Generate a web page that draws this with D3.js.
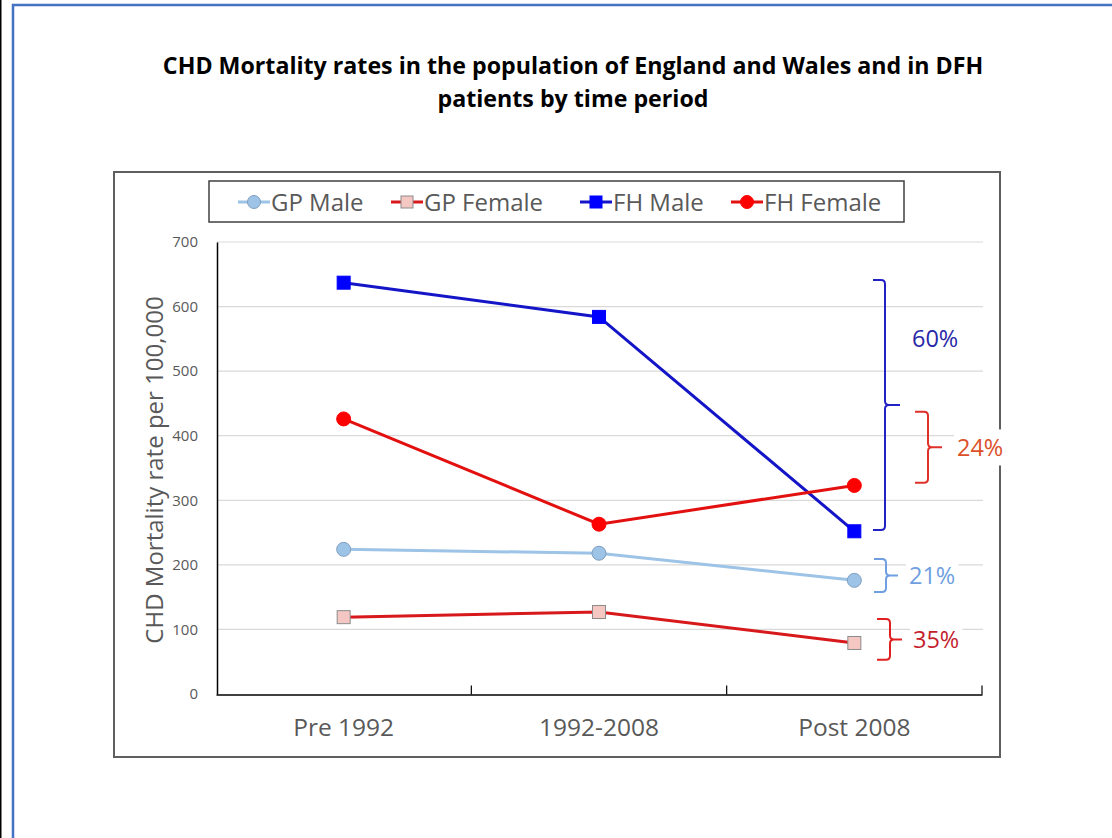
<!DOCTYPE html>
<html>
<head>
<meta charset="utf-8">
<script src="https://cdn.jsdelivr.net/npm/d3@7"></script>
<style>
  html, body { margin: 0; padding: 0; background: #fff; }
  svg { display: block; font-family: "Open Sans", Lato, sans-serif; }
</style>
</head>
<body>
<svg id="chart" width="1112" height="838"></svg>
<script>
// Time periods on the x axis
const periods = ["Pre 1992", "1992-2008", "Post 2008"];

// CHD mortality per 100,000 by group
const gpMale   = [224, 218, 176];
const gpFemale = [119, 127, 79];
const fhMale   = [637, 584, 252];
const fhFemale = [426, 263, 323];

const yTicks = [0, 100, 200, 300, 400, 500, 600, 700];

// Percentage-drop annotations: value span of the bracket, label and label height
const bracketLabels = ["60%", "24%", "21%", "35%"];
const bracketTop    = [641, 437, 209, 116];
const bracketBottom = [254, 327, 158, 53];
const bracketLabelAt = [550, 381, 183, 85];

const series = [
  { name: "GP Male",   values: gpMale,   line: "#9dc3e6", fill: "#9dc3e6", stroke: "#7f9fc0", shape: "circle" },
  { name: "GP Female", values: gpFemale, line: "#d7191c", fill: "#f4c7c3", stroke: "#8c8c8c", shape: "square" },
  { name: "FH Male",   values: fhMale,   line: "#1515c8", fill: "#0000ff", stroke: "#0000ff", shape: "square" },
  { name: "FH Female", values: fhFemale, line: "#e31010", fill: "#ff0000", stroke: "#ff0000", shape: "circle" }
];

const brackets = [
  { i: 0, x: 885, arm: 12, tip: 15, color: "#2222c4", text: "#2828a8", tx: 912 },
  { i: 1, x: 928, arm: 13, tip: 14, color: "#e0302a", text: "#dc5028", tx: 957 },
  { i: 2, x: 886, arm: 12, tip: 12, color: "#6f9fe0", text: "#6f9fe0", tx: 909 },
  { i: 3, x: 890, arm: 13, tip: 12, color: "#e02020", text: "#c41e2e", tx: 913 }
];

const svg = d3.select("#chart");
const gray = "#595959";

// outer frame
svg.append("rect").attr("x", 0).attr("y", 0).attr("width", 1.5).attr("height", 838).attr("fill", "#000");
svg.append("rect").attr("x", 13).attr("y", 5).attr("width", 1200).attr("height", 900)
  .attr("fill", "none").attr("stroke", "#4472c4").attr("stroke-width", 2.5);

// title
const title = svg.append("text").attr("text-anchor", "middle").attr("font-weight", "bold")
  .attr("font-size", 23.2).attr("fill", "#000");
title.append("tspan").attr("x", 573).attr("y", 74).text("CHD Mortality rates in the population of England and Wales and in DFH");
title.append("tspan").attr("x", 573).attr("y", 107).text("patients by time period");

// chart area frame
svg.append("rect").attr("x", 114).attr("y", 172).attr("width", 886).attr("height", 585)
  .attr("fill", "#fff").attr("stroke", "#5f5f5f").attr("stroke-width", 2);

const x = d3.scaleBand().domain(periods).range([216, 982]);
const y = d3.scaleLinear().domain([0, 700]).range([694, 242]);
const xc = d => x(d) + x.bandwidth() / 2;

// gridlines
svg.append("g").selectAll("line").data(yTicks.slice(1)).join("line")
  .attr("x1", 217).attr("x2", 983).attr("y1", d => y(d)).attr("y2", d => y(d))
  .attr("stroke", "#d9d9d9").attr("stroke-width", 1.2);

// y axis
const yAxis = svg.append("g").attr("transform", "translate(217,0)")
  .call(d3.axisLeft(y).tickValues(yTicks).tickSize(0).tickPadding(19));
yAxis.select(".domain").attr("stroke", "#000").attr("stroke-width", 1.5);
yAxis.selectAll("text").attr("font-size", 15).attr("fill", gray).attr("font-family", "'Open Sans', sans-serif");

// x axis with category separators as inside ticks
const xAxis = svg.append("g").attr("transform", "translate(0,694.5)")
  .call(d3.axisBottom(x).tickSize(0).tickPadding(24));
xAxis.select(".domain").attr("stroke", "#000").attr("stroke-width", 1.5);
xAxis.selectAll("text").attr("font-size", 24.5).attr("fill", gray).attr("font-family", "'Open Sans', sans-serif");
const bounds = periods.map(p => x(p) + x.bandwidth());
xAxis.append("g").selectAll("line").data(bounds).join("line")
  .attr("x1", d => d).attr("x2", d => d).attr("y1", 0).attr("y2", -9)
  .attr("stroke", "#000").attr("stroke-width", 1.2);

// series lines and markers
const line = d3.line().x((d, i) => xc(periods[i])).y(d => y(d));

function marker(g, s, cx, cy, size) {
  if (s.shape === "circle") {
    g.append("circle").attr("cx", cx).attr("cy", cy).attr("r", size / 2)
      .attr("fill", s.fill).attr("stroke", s.stroke).attr("stroke-width", 1);
  } else {
    g.append("rect").attr("x", cx - size / 2).attr("y", cy - size / 2)
      .attr("width", size).attr("height", size)
      .attr("fill", s.fill).attr("stroke", s.stroke).attr("stroke-width", 1);
  }
}

series.forEach(s => {
  const g = svg.append("g");
  g.append("path").datum(s.values).attr("d", line)
    .attr("fill", "none").attr("stroke", s.line).attr("stroke-width", 3);
  s.values.forEach((v, i) => marker(g, s, xc(periods[i]), y(v), s.shape === "circle" ? 14 : 13));
});

// brackets with percentage labels
brackets.forEach(b => {
  const y0 = y(bracketTop[b.i]), y1 = y(bracketBottom[b.i]), ym = (y0 + y1) / 2, r = 4;
  const p = d3.path();
  p.moveTo(b.x - b.arm, y0);
  p.lineTo(b.x - r, y0);
  p.quadraticCurveTo(b.x, y0, b.x, y0 + r);
  p.lineTo(b.x, ym - r);
  p.quadraticCurveTo(b.x, ym, b.x + r, ym);
  p.lineTo(b.x + b.tip, ym);
  p.moveTo(b.x + r, ym);
  p.quadraticCurveTo(b.x, ym, b.x, ym + r);
  p.lineTo(b.x, y1 - r);
  p.quadraticCurveTo(b.x, y1, b.x - r, y1);
  p.lineTo(b.x - b.arm, y1);
  svg.append("path").attr("d", p.toString()).attr("fill", "none")
    .attr("stroke", b.color).attr("stroke-width", 2);
  const t = svg.append("text").attr("x", b.tx).attr("y", y(bracketLabelAt[b.i])).attr("dy", "0.36em")
    .attr("font-size", 23.5).attr("fill", b.text).text(bracketLabels[b.i]);
  const bb = t.node().getBBox();
  svg.insert("rect", () => t.node()).attr("x", bb.x - 3).attr("y", bb.y - 2)
    .attr("width", bb.width + 6).attr("height", bb.height + 4).attr("fill", "#fff");
});

// legend
const legend = svg.append("g");
legend.append("rect").attr("x", 209).attr("y", 181).attr("width", 695).attr("height", 41)
  .attr("fill", "#fff").attr("stroke", "#404040").attr("stroke-width", 1.5);
const legendX = [254, 407, 596, 747];
series.forEach((s, i) => {
  const g = legend.append("g");
  const cx = legendX[i], cy = 202;
  g.append("line").attr("x1", cx - 16).attr("x2", cx + 16).attr("y1", cy).attr("y2", cy)
    .attr("stroke", s.line).attr("stroke-width", 3);
  marker(g, s, cx, cy, s.shape === "circle" ? 13 : 12);
  g.append("text").attr("x", cx + 17).attr("y", cy).attr("dy", "0.36em")
    .attr("font-size", 24).attr("fill", gray).text(s.name);
});

// y axis title
svg.append("text").attr("transform", "translate(163,470) rotate(-90)")
  .attr("text-anchor", "middle").attr("font-size", 24).attr("fill", gray)
  .text("CHD Mortality rate per 100,000");
</script>
</body>
</html>
